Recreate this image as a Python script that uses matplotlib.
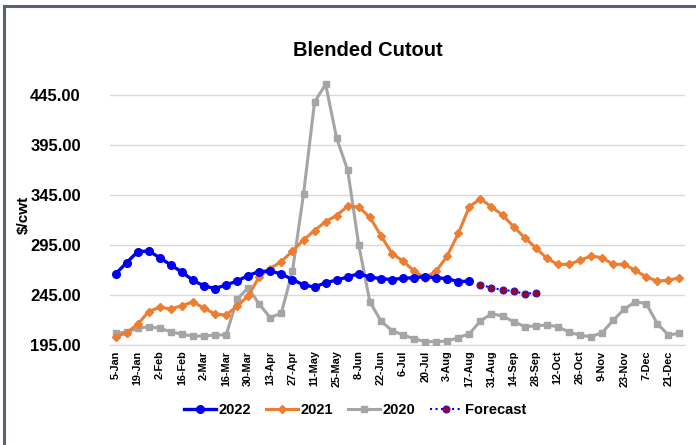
import numpy as np
import matplotlib
matplotlib.use("Agg")
import matplotlib.pyplot as plt
from matplotlib.lines import Line2D

# --------------------------------------------------
# Data (weekly, $/cwt)
# --------------------------------------------------
week_labels = ["5-Jan", "19-Jan", "2-Feb", "16-Feb", "2-Mar", "16-Mar", "30-Mar",
               "13-Apr", "27-Apr", "11-May", "25-May", "8-Jun", "22-Jun", "6-Jul",
               "20-Jul", "3-Aug", "17-Aug", "31-Aug", "14-Sep", "28-Sep", "12-Oct",
               "26-Oct", "9-Nov", "23-Nov", "7-Dec", "21-Dec"]

y2022 = [266, 277.3, 288.3, 289, 282.3, 275, 268, 259.7, 254, 251.5,
         255, 259, 264.5, 268.5, 269, 266, 260.5, 255, 253, 257.3,
         260, 263, 266.3, 263, 261.3, 260.5, 261.7, 262.3, 263.3, 262.3,
         261.3, 258.3, 259]

forecast = [255, 252.3, 250, 249, 246, 247.3]

y2021 = [203, 207.3, 215.7, 228.5, 232.7, 231.2, 234.3, 238.2, 231.8, 226,
         225, 234, 244, 263.5, 271.5, 278.5, 289, 300, 309.5, 318.5,
         324.5, 334, 333, 322.7, 304.5, 286.5, 279, 269, 262.3, 269,
         284, 306.7, 333.3, 341.3, 333, 325, 313.3, 302.3, 292.3, 281.7,
         275.7, 275.7, 279.7, 284, 282.3, 275.7, 275.7, 269.7, 263, 259,
         259.7, 262.3]

y2020 = [206.7, 208, 211.7, 213.3, 211.7, 208.3, 205.7, 204, 204, 205,
         205, 240.7, 252.3, 235.7, 222.3, 227, 269, 345.7, 438, 455.7,
         401.7, 369.7, 294.7, 238.3, 219, 209.5, 205, 201.3, 198.3, 198.3,
         199, 202.3, 206.3, 219, 226.3, 224, 218.3, 213.5, 214, 215,
         213.3, 208, 204.7, 203.3, 207.3, 219.7, 230.7, 238.3, 236.3, 216.3,
         205, 206.7]

yticks = [195, 245, 295, 345, 395, 445]

# --------------------------------------------------
# Plot
# --------------------------------------------------
plt.rcParams['font.family'] = ['Liberation Sans', 'DejaVu Sans']
plt.rcParams['font.weight'] = 'bold'

fig = plt.figure(figsize=(6.96, 4.45), dpi=100)
ax = fig.add_axes([110 / 696, 1 - 345 / 445, 575 / 696, 276 / 445])

x2020 = np.arange(len(y2020))
x2021 = np.arange(len(y2021))
x2022 = np.arange(len(y2022))
xfc = np.arange(len(y2022), len(y2022) + len(forecast))

ax.plot(x2020, y2020, color="#A5A5A5", lw=2.2, marker="s", ms=4.5, label="2020", zorder=3)
ax.plot(x2021, y2021, color="#ED7D31", lw=2.2, marker="D", ms=4, label="2021", zorder=4)
ax.plot(x2022, y2022, color="#0000F0", lw=2.4, marker="o", ms=5.5, label="2022", zorder=5)
ax.plot(xfc, forecast, color="#0000F0", lw=1.5, ls=":", marker="o", ms=5,
        mfc="#A0002A", mec="#2020C0", mew=0.8, label="Forecast", zorder=5)

ax.set_xlim(-0.5, 51.5)
ax.set_ylim(195, 471)
ax.set_yticks(yticks)
ax.set_yticklabels([f"{v:.2f}" for v in yticks])
ax.set_xticks(np.arange(0, 52, 2))
ax.set_xticklabels(week_labels, rotation=90)

ax.grid(axis="y", color="#D9D9D9", lw=1)
ax.set_axisbelow(True)
for s in ["top", "right", "left"]:
    ax.spines[s].set_visible(False)
ax.spines["bottom"].set_color("#D9D9D9")
ax.tick_params(axis="y", length=0, pad=21, labelsize=12)
ax.tick_params(axis="x", length=0, pad=4, labelsize=7.8)

fig.text(24 / 696, 1 - 215 / 445, "$/cwt", rotation=90, ha="center", va="center",
         fontsize=11, fontweight="bold")
fig.text(368 / 696, 1 - 50 / 445, "Blended Cutout", ha="center", va="center",
         fontsize=14.5, fontweight="bold")

handles, labels = ax.get_legend_handles_labels()
order = [2, 1, 0, 3]
fig.legend([handles[i] for i in order], [labels[i] for i in order],
           loc="center", bbox_to_anchor=(355 / 696, 1 - 410 / 445), ncol=4,
           frameon=False, handlelength=2.2, columnspacing=1.0,
           handletextpad=0.2, prop={"weight": "bold", "size": 10.5})

# outer chart border (cut off at right and bottom)
fig.add_artist(Line2D([4 / 696, 4 / 696], [0, 1 - 6 / 445], color="#5A6470", lw=2.2,
                      transform=fig.transFigure))
fig.add_artist(Line2D([4 / 696, 1], [1 - 6 / 445, 1 - 6 / 445], color="#5A6470", lw=2.2,
                      transform=fig.transFigure))

fig.savefig("out.png", dpi=100)
